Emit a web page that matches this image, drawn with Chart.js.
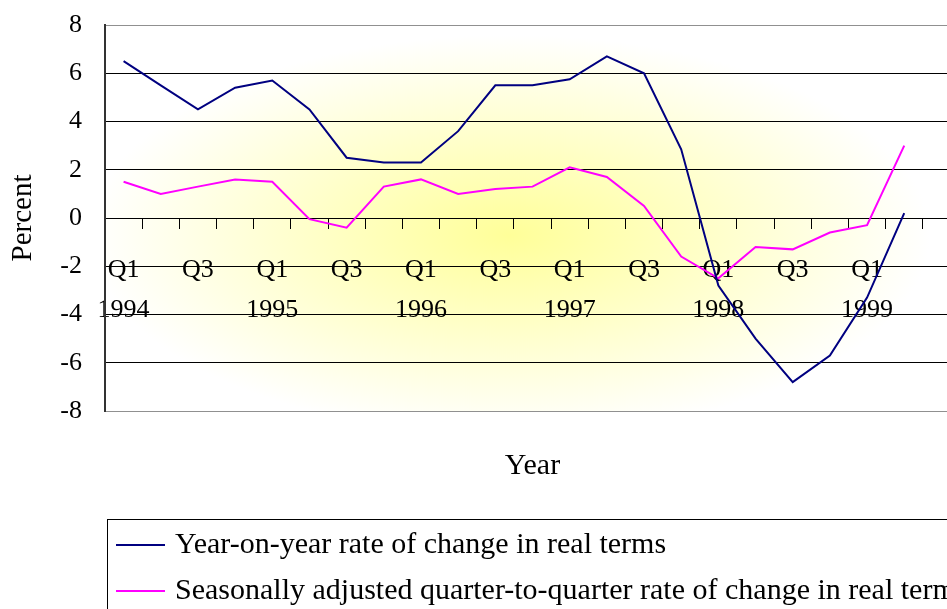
<!DOCTYPE html>
<html>
<head>
<meta charset="utf-8">
<script src="https://cdn.jsdelivr.net/npm/chart.js@4/dist/chart.umd.min.js"></script>
<style>
    html, body { margin: 0; padding: 0; background: #fff; overflow: hidden; }
    .wrap { position: relative; width: 1000px; height: 609px; }
</style>
</head>
<body>
<div class="wrap"><canvas id="chartGdp"></canvas></div>
<script>
// quarters on the category axis (the last one is empty in the original)
const categories = ['1994 Q1', '1994 Q2', '1994 Q3', '1994 Q4', '1995 Q1', '1995 Q2', '1995 Q3', '1995 Q4',
    '1996 Q1', '1996 Q2', '1996 Q3', '1996 Q4', '1997 Q1', '1997 Q2', '1997 Q3', '1997 Q4',
    '1998 Q1', '1998 Q2', '1998 Q3', '1998 Q4', '1999 Q1', '1999 Q2', '1999 Q3'];
const tickLabels = [['Q1', '1994'], '', 'Q3', '', ['Q1', '1995'], '', 'Q3', '', ['Q1', '1996'], '', 'Q3', '',
    ['Q1', '1997'], '', 'Q3', '', ['Q1', '1998'], '', 'Q3', '', ['Q1', '1999'], '', ''];
const yearOnYear = [6.5, 5.5, 4.5, 5.4, 5.7, 4.5, 2.5, 2.3, 2.3, 3.6, 5.5, 5.5, 5.75, 6.7, 6.0, 2.85,
    -2.8, -5.0, -6.8, -5.7, -3.3, 0.2];
const quarterToQuarter = [1.5, 1.0, 1.3, 1.6, 1.5, -0.05, -0.4, 1.3, 1.6, 1.0, 1.2, 1.3, 2.1, 1.7, 0.5, -1.6,
    -2.5, -1.2, -1.3, -0.6, -0.3, 3.0];
const seriesNames = ['Year-on-year rate of change in real terms',
    'Seasonally adjusted quarter-to-quarter rate of change in real terms'];
const yTicks = { min: -8, max: 8, step: 2 };

const serif = "'Liberation Serif', 'Times New Roman', serif";

// yellow glow in the middle of the plot area
const plotBackground = {
    id: 'plotBackground',
    beforeDraw(chart) {
        const { ctx, chartArea: a } = chart;
        const cx = 510;
        const cy = 235;
        const rx = 420;
        const ry = 200;
        ctx.save();
        ctx.beginPath();
        ctx.rect(a.left, a.top, a.right - a.left, a.bottom - a.top);
        ctx.clip();
        ctx.fillStyle = '#fff';
        ctx.fillRect(a.left, a.top, a.right - a.left, a.bottom - a.top);
        ctx.translate(cx, cy);
        ctx.scale(rx / ry, 1);
        const g = ctx.createRadialGradient(0, 0, 0, 0, 0, ry);
        g.addColorStop(0, '#ffff99');
        g.addColorStop(1, '#ffffff');
        ctx.fillStyle = g;
        ctx.fillRect(-ry, -ry, 2 * ry, 2 * ry);
        ctx.restore();
    }
};

// x axis title and boxed legend under the plot
const bottomParts = {
    id: 'bottomParts',
    afterDraw(chart) {
        const { ctx, chartArea: a } = chart;
        ctx.save();
        ctx.fillStyle = '#000';
        ctx.font = '30px ' + serif;
        ctx.textAlign = 'center';
        ctx.textBaseline = 'middle';
        ctx.fillText('Year', (a.left + a.right) / 2, 466);

        ctx.strokeStyle = '#000';
        ctx.lineWidth = 1;
        ctx.strokeRect(107.5, 519.5, 1000, 200);

        ctx.textAlign = 'left';
        chart.data.datasets.forEach((ds, i) => {
            let y = 545 + i * 46;
            ctx.strokeStyle = ds.borderColor;
            ctx.lineWidth = 2;
            ctx.beginPath();
            ctx.moveTo(116, y);
            ctx.lineTo(165, y);
            ctx.stroke();
            ctx.fillText(ds.label, 175, y);
        });
        ctx.restore();
    }
};

new Chart(document.getElementById('chartGdp'), {
    type: 'line',
    data: {
        labels: categories,
        datasets: [{
            label: seriesNames[0],
            data: yearOnYear,
            borderColor: '#000080',
            borderWidth: 2,
            pointRadius: 0,
            tension: 0,
        }, {
            label: seriesNames[1],
            data: quarterToQuarter,
            borderColor: '#ff00ff',
            borderWidth: 2,
            pointRadius: 0,
            tension: 0,
        }]
    },
    options: {
        responsive: true,
        maintainAspectRatio: false,
        animation: false,
        layout: {
            padding: { top: 25, bottom: 198, left: 0, right: 40 }
        },
        plugins: {
            legend: { display: false },
            tooltip: { enabled: false },
        },
        scales: {
            x: {
                position: { y: 0 },
                offset: true,
                grid: {
                    offset: true,
                    drawOnChartArea: false,
                    tickLength: 10,
                    color: '#000',
                },
                border: { color: '#000', width: 1 },
                ticks: {
                    autoSkip: false,
                    maxRotation: 0,
                    padding: 22,
                    color: '#000',
                    font: { family: serif, size: 26, lineHeight: 1.54 },
                    callback: (v, i) => tickLabels[i],
                },
            },
            y: {
                min: yTicks.min,
                max: yTicks.max,
                afterFit(scale) {
                    scale.width = 105;
                    scale.paddingTop = 0;
                    scale.paddingBottom = 0;
                },
                grid: {
                    drawTicks: false,
                    color: c => (c.tick && Math.abs(c.tick.value) === yTicks.max) ? '#909090' : '#000',
                },
                border: { color: '#333', width: 2 },
                ticks: {
                    stepSize: yTicks.step,
                    padding: 23,
                    color: '#000',
                    font: { family: serif, size: 26 },
                },
                title: {
                    display: true,
                    text: 'Percent',
                    color: '#000',
                    padding: { top: 6 },
                    font: { family: serif, size: 29 },
                },
            }
        }
    },
    plugins: [plotBackground, bottomParts],
});
</script>
</body>
</html>
